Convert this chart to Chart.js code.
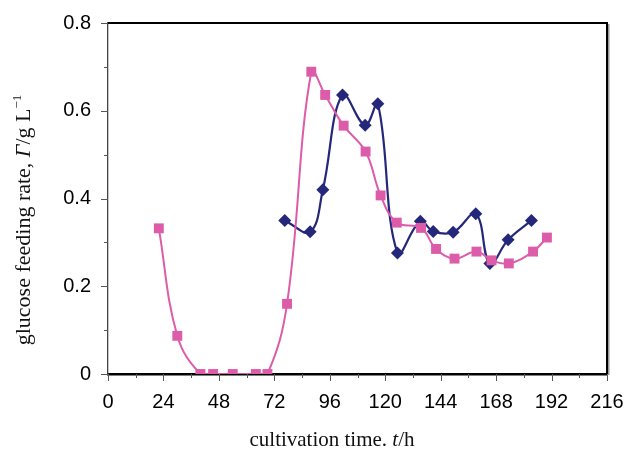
<!DOCTYPE html>
<html>
<head>
<meta charset="utf-8">
<script src="https://cdn.jsdelivr.net/npm/chart.js@4/dist/chart.umd.min.js"></script>
<style>
  html, body { margin: 0; padding: 0; background: #fff; }
  canvas { display: block; }
</style>
</head>
<body>
<canvas id="feed-chart" width="628" height="452"></canvas>
<script>
// Glucose feeding rate vs cultivation time
const pinkTime = [22, 30, 40, 45.5, 54, 64, 69, 77.5, 88, 94, 102, 111.5, 118, 125, 135.5, 142, 150, 159.5, 166, 173.5, 184, 190];
const pinkRate = [0.332, 0.087, 0, 0, 0, 0, 0, 0.160, 0.689, 0.636, 0.566, 0.507, 0.407, 0.345, 0.333, 0.285, 0.263, 0.279, 0.259, 0.252, 0.279, 0.311];

const blueTime = [76.5, 87.5, 93, 101.5, 111.3, 116.8, 125.3, 135.2, 140.8, 149.4, 159.2, 165.3, 173.2, 183.3];
const blueRate = [0.350, 0.324, 0.420, 0.636, 0.567, 0.616, 0.276, 0.348, 0.325, 0.323, 0.365, 0.252, 0.306, 0.350];

const xTicks = [0, 24, 48, 72, 96, 120, 144, 168, 192, 216];
const yTicks = [0, 0.2, 0.4, 0.6, 0.8];

const PINK = '#DC5CA9';
const NAVY = '#25287A';
const SERIF = '"Liberation Serif", "Times New Roman", serif';
const SANS = '"Liberation Sans", Arial, sans-serif';

function toPoints(xs, ys) {
    return xs.map((x, i) => ({ x: x, y: ys[i] }));
}

// tick marks, top/right frame and the mixed-style axis titles
const decorations = {
    id: 'decorations',
    afterDraw(chart) {
        const ctx = chart.ctx;
        const xs = chart.scales.x;
        const ys = chart.scales.y;
        const area = chart.chartArea;

        ctx.save();
        ctx.strokeStyle = '#555';
        ctx.lineWidth = 1;
        ctx.beginPath();
        for (let v = 0; v <= 216; v += 12) {
            const px = Math.round(xs.getPixelForValue(v)) + 0.5;
            const len = v % 24 === 0 ? 7 : 4;
            ctx.moveTo(px, area.bottom);
            ctx.lineTo(px, area.bottom + len);
        }
        for (let k = 0; k <= 8; k++) {
            const py = Math.round(ys.getPixelForValue(k / 10)) + 0.5;
            const len = k % 2 === 0 ? 7 : 4;
            ctx.moveTo(area.left, py);
            ctx.lineTo(area.left - len, py);
        }
        ctx.stroke();

        // frame: top and right edges
        ctx.strokeStyle = '#999';
        ctx.lineWidth = 2;
        ctx.beginPath();
        ctx.moveTo(area.right + 1.5, area.top + 1);
        ctx.lineTo(area.right + 1.5, area.bottom + 1);
        ctx.stroke();
        ctx.strokeStyle = '#000';
        ctx.lineWidth = 2;
        ctx.beginPath();
        ctx.moveTo(area.left, area.top);
        ctx.lineTo(area.right, area.top);
        ctx.lineTo(area.right, area.bottom);
        ctx.stroke();

        ctx.fillStyle = '#111';
        ctx.textBaseline = 'alphabetic';

        // x title: "cultivation time. t/h"
        const xParts = [
            { t: 'cultivation time. ', f: '21px ' + SERIF },
            { t: 't', f: 'italic 21px ' + SERIF },
            { t: '/h', f: '21px ' + SERIF }
        ];
        drawParts(ctx, xParts, 332, 446);

        // y title, rotated
        ctx.translate(30, 220);
        ctx.rotate(-Math.PI / 2);
        const yParts = [
            { t: 'glucose feeding rate, ', f: '22px ' + SERIF },
            { t: 'Γ', f: 'italic 22px ' + SERIF },
            { t: '/g L', f: '22px ' + SERIF },
            { t: '−1', f: '13px ' + SERIF, dy: -9 }
        ];
        drawParts(ctx, yParts, 0, 0);
        ctx.restore();
    }
};

function drawParts(ctx, parts, cx, baseY) {
    let total = 0;
    parts.forEach(p => {
        ctx.font = p.f;
        p.w = ctx.measureText(p.t).width;
        total += p.w;
    });
    let x = cx - total / 2;
    parts.forEach(p => {
        ctx.font = p.f;
        ctx.fillText(p.t, x, baseY + (p.dy || 0));
        x += p.w;
    });
}

const ctx = document.getElementById('feed-chart').getContext('2d');

new Chart(ctx, {
    type: 'line',
    data: {
        datasets: [
            {
                label: 'pink',
                data: toPoints(pinkTime, pinkRate),
                borderColor: PINK,
                backgroundColor: PINK,
                borderWidth: 2,
                pointStyle: 'rect',
                pointRadius: 7,
                pointBorderWidth: 0,
                tension: 0.4
            },
            {
                label: 'navy',
                data: toPoints(blueTime, blueRate),
                borderColor: NAVY,
                backgroundColor: NAVY,
                borderWidth: 2.2,
                pointStyle: 'rectRot',
                pointRadius: 6.5,
                pointBorderWidth: 0,
                tension: 0.4
            }
        ]
    },
    options: {
        responsive: false,
        animation: false,
        devicePixelRatio: 1,
        layout: {
            padding: { top: 23, right: 21, left: 0, bottom: 0 }
        },
        plugins: {
            legend: { display: false },
            tooltip: { enabled: false }
        },
        scales: {
            x: {
                type: 'linear',
                min: 0,
                max: 216,
                afterBuildTicks: scale => {
                    scale.ticks = xTicks.map(v => ({ value: v }));
                },
                afterFit: scale => {
                    scale.height = 78;
                    scale.paddingLeft = 0;
                    scale.paddingRight = 0;
                },
                grid: { display: false, drawTicks: false },
                border: { display: true, color: '#000', width: 2.5 },
                ticks: {
                    color: '#000',
                    padding: 16,
                    maxRotation: 0,
                    autoSkip: false,
                    font: { family: SANS, size: 20 },
                    callback: v => String(v)
                }
            },
            y: {
                min: 0,
                max: 0.8,
                afterBuildTicks: scale => {
                    scale.ticks = yTicks.map(v => ({ value: v }));
                },
                afterFit: scale => {
                    scale.width = 108;
                    scale.paddingTop = 0;
                    scale.paddingBottom = 0;
                },
                grid: { display: false, drawTicks: false },
                border: { display: true, color: '#444', width: 1.3 },
                ticks: {
                    color: '#000',
                    padding: 17,
                    autoSkip: false,
                    font: { family: SANS, size: 20 },
                    callback: v => v === 0 ? '0' : v.toFixed(1)
                }
            }
        }
    },
    plugins: [decorations]
});
</script>
</body>
</html>
